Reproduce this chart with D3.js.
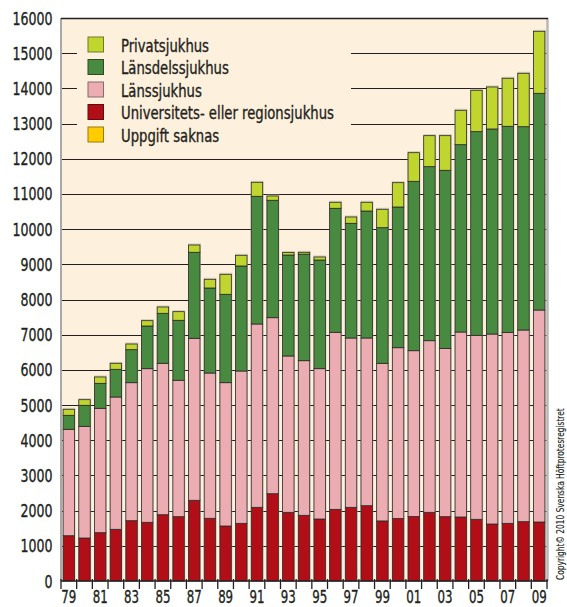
<!DOCTYPE html>
<html><head><meta charset="utf-8">
<script src="https://cdn.jsdelivr.net/npm/d3@7"></script>
<style>
html,body{margin:0;padding:0;background:#fff;}
text{font-family:"Liberation Sans Narrow","DejaVu Sans Condensed","Arial Narrow",sans-serif;fill:#231f20;stroke:#231f20;stroke-width:0.35px;}
</style></head>
<body><svg id="chart" width="567" height="607"></svg>
<script>
const years = ["79","80","81","82","83","84","85","86","87","88","89","90","91","92","93","94","95","96","97","98","99","00","01","02","03","04","05","06","07","08","09"];
const tickLabels = ["79","81","83","85","87","89","91","93","95","97","99","01","03","05","07","09"];
const universitets = [1287,1222,1373,1469,1714,1668,1884,1828,2293,1782,1563,1639,2094,2481,1952,1867,1762,2037,2094,2140,1707,1775,1832,1952,1828,1819,1753,1620,1639,1686,1677];
const lans = [3024,3174,3535,3760,3922,4366,4303,3876,4604,4129,4073,4329,5210,5002,4443,4394,4272,5031,4812,4766,4480,4855,4713,4877,4783,5257,5229,5399,5427,5447,6024];
const lansdels = [398,597,710,787,938,1213,1421,1705,2445,2416,2512,2984,3629,3337,2870,3029,3089,3524,3260,3609,3854,3999,4814,4946,5061,5324,5788,5827,5856,5778,6159];
const privat = [171,160,180,171,161,151,179,245,207,247,568,304,398,122,71,51,85,171,179,248,523,691,813,881,984,977,1176,1194,1365,1518,1762];
const uppgift = [0,0,0,0,0,0,0,0,0,0,0,0,0,0,0,0,0,0,0,0,0,0,0,0,0,0,0,0,0,0,0];
const yTicks = [0,1000,2000,3000,4000,5000,6000,7000,8000,9000,10000,11000,12000,13000,14000,15000,16000];
const seriesNames = ["Universitets- eller regionsjukhus","Länssjukhus","Länsdelssjukhus","Privatsjukhus","Uppgift saknas"];
const legendOrder = ["Privatsjukhus","Länsdelssjukhus","Länssjukhus","Universitets- eller regionsjukhus","Uppgift saknas"];
const colors = {"Universitets- eller regionsjukhus":"#b20e18","Länssjukhus":"#ebadb1","Länsdelssjukhus":"#488a3f","Privatsjukhus":"#c0d62e","Uppgift saknas":"#ffcc00"};
const strokes = {"Universitets- eller regionsjukhus":"#5a1010","Länssjukhus":"#8a6a6c","Länsdelssjukhus":"#2c4a26","Privatsjukhus":"#6e7a2a","Uppgift saknas":"#9a7a10"};

const rows = years.map((y,i)=>({year:y,
  "Universitets- eller regionsjukhus":universitets[i],
  "Länssjukhus":lans[i],
  "Länsdelssjukhus":lansdels[i],
  "Privatsjukhus":privat[i],
  "Uppgift saknas":uppgift[i]}));

const svg = d3.select("#chart");
const L=61, R=547, T=18, B=581;
const x = d3.scaleBand().domain(years).range([L,R]).paddingInner(0.27).paddingOuter(0.135);
const y = d3.scaleLinear().domain([0,16000]).range([B,T]);
const bg = "#fdf0dc";

function squeeze(sample, size, target){
  const t = svg.append("text").attr("font-size",size).text(sample);
  const w = t.node().getComputedTextLength();
  t.remove();
  return Math.min(1, target / w);
}
function label(g, txt, px, py, size, sx, anchor){
  const gg = g.append("g").attr("transform",`translate(${px},${py}) scale(${sx},1)`);
  gg.append("text").attr("font-size",size).attr("text-anchor",anchor||"start").text(txt);
  return gg;
}

svg.append("rect").attr("x",L).attr("y",T).attr("width",R-L).attr("height",B-T).attr("fill",bg);

svg.append("g").selectAll("line").data(yTicks.filter(d=>d>0&&d<16000)).join("line")
  .attr("x1",L).attr("x2",R).attr("y1",d=>Math.round(y(d))+0.5).attr("y2",d=>Math.round(y(d))+0.5)
  .attr("stroke","#231f20").attr("stroke-width",1.2);

svg.append("rect").attr("x",77).attr("y",27).attr("width",274).attr("height",124).attr("fill",bg);

const stack = d3.stack().keys(seriesNames)(rows);
const barG = svg.append("g");
barG.selectAll("rect.sh").data(rows).join("rect").attr("class","sh")
  .attr("x",d=>x(d.year)-0.5).attr("width",x.bandwidth()+1.5)
  .attr("y",(d,i)=>y(stack[stack.length-1][i][1])-1.5)
  .attr("height",(d,i)=>B-y(stack[stack.length-1][i][1])+1.5)
  .attr("fill","#b8b0a4").attr("opacity",0.6);
stack.forEach(s=>{
  barG.append("g").selectAll("rect").data(s.filter(d=>d[1]-d[0]>0)).join("rect")
    .attr("x",d=>x(d.data.year)).attr("width",x.bandwidth())
    .attr("y",d=>y(d[1])).attr("height",d=>y(d[0])-y(d[1]))
    .attr("fill",colors[s.key]).attr("stroke","#2a2a2a").attr("stroke-width",0.8);
});

svg.append("line").attr("x1",L).attr("x2",L).attr("y1",T).attr("y2",B).attr("stroke","#a8a8a8").attr("stroke-width",2);
svg.append("line").attr("x1",R+0.5).attr("x2",R+0.5).attr("y1",T).attr("y2",B).attr("stroke","#b8b8b8").attr("stroke-width",2.5);
svg.append("line").attr("x1",L).attr("x2",R+1).attr("y1",T+0.5).attr("y2",T+0.5).attr("stroke","#231f20").attr("stroke-width",1.5);
svg.append("line").attr("x1",L).attr("x2",R+1).attr("y1",B).attr("y2",B).attr("stroke","#231f20").attr("stroke-width",1.5);

const half = (x.step()-x.bandwidth())/2;
const bounds = years.map(d=>x(d)-half).concat([x(years[years.length-1])+x.bandwidth()+half]);
svg.append("g").selectAll("line").data(bounds).join("line")
  .attr("x1",d=>d).attr("x2",d=>d).attr("y1",B-2).attr("y2",B+8)
  .attr("stroke","#231f20").attr("stroke-width",1.3);
const xs = squeeze("79",17,15);
const xg = svg.append("g");
tickLabels.forEach(d=>label(xg, d, x(d)+x.bandwidth()/2, 602.5, 17, xs, "middle"));

const ys = squeeze("16000",18,40);
const yg = svg.append("g");
yTicks.forEach(d=>label(yg, String(d), 52.5, y(d)+6.5, 18, ys, "end"));

const ls = squeeze("Universitets- eller regionsjukhus",18.5,213);
const lg = svg.append("g");
legendOrder.forEach((k,i)=>{
  const yy = 37 + i*22.5;
  lg.append("rect").attr("x",88).attr("y",yy).attr("width",15.5).attr("height",15)
    .attr("fill",colors[k]).attr("stroke",strokes[k]).attr("stroke-width",1);
  label(lg, k, 121, yy+14.5, 18.5, ls, "start");
});

const cs = squeeze("Copyright© 2010 Svenska Höftprotesregistret",10.5,172);
svg.append("g").attr("transform",`translate(564,580) rotate(-90) scale(${cs},1)`)
  .append("text").attr("font-size",10.5).style("stroke-width","0.15px").text("Copyright© 2010 Svenska Höftprotesregistret");
</script></body></html>
